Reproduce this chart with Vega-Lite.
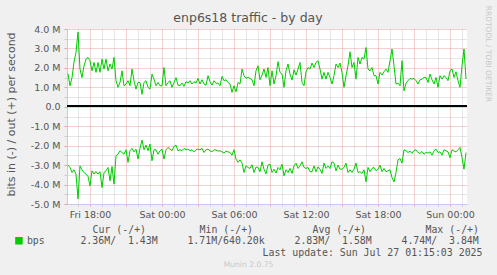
{
"$schema": "https://vega.github.io/schema/vega-lite/v6.json",
"width": 400, "height": 175,
"autosize": "none",
"padding": {"left": 67, "top": 29, "right": 30, "bottom": 71},
"background": "#f0f0f0",
"config": {"view": {"fill": "#ffffff", "stroke": null}, "font": "DejaVu Sans"},
"title": {"text": "enp6s18 traffic - by day", "font": "DejaVu Sans", "fontSize": 12.5, "fontWeight": "normal", "color": "#555555", "anchor": "middle", "dx": -19, "offset": 7, "dy": 26},
"data": {"values": [
{"time":"2025-07-25T16:10:00Z","out":1.70,"inb":-3.00},{"time":"2025-07-25T16:20:00Z","out":1.08,"inb":-3.12},{"time":"2025-07-25T16:30:00Z","out":1.50,"inb":-3.38},{"time":"2025-07-25T16:40:00Z","out":2.30,"inb":-3.24},{"time":"2025-07-25T16:50:00Z","out":2.80,"inb":-3.46},
{"time":"2025-07-25T17:00:00Z","out":3.84,"inb":-4.74},{"time":"2025-07-25T17:10:00Z","out":1.94,"inb":-3.04},{"time":"2025-07-25T17:20:00Z","out":1.50,"inb":-3.24},{"time":"2025-07-25T17:30:00Z","out":2.10,"inb":-3.38},{"time":"2025-07-25T17:40:00Z","out":2.45,"inb":-3.46},{"time":"2025-07-25T17:50:00Z","out":2.54,"inb":-3.58},
{"time":"2025-07-25T18:00:00Z","out":2.37,"inb":-4.07},{"time":"2025-07-25T18:10:00Z","out":1.85,"inb":-3.29},{"time":"2025-07-25T18:20:00Z","out":2.28,"inb":-3.46},{"time":"2025-07-25T18:30:00Z","out":1.77,"inb":-3.33},{"time":"2025-07-25T18:40:00Z","out":2.28,"inb":-3.46},{"time":"2025-07-25T18:50:00Z","out":1.77,"inb":-3.34},
{"time":"2025-07-25T19:00:00Z","out":2.45,"inb":-4.15},{"time":"2025-07-25T19:10:00Z","out":1.94,"inb":-3.38},{"time":"2025-07-25T19:20:00Z","out":2.45,"inb":-3.29},{"time":"2025-07-25T19:30:00Z","out":1.85,"inb":-3.12},{"time":"2025-07-25T19:40:00Z","out":2.20,"inb":-3.81},{"time":"2025-07-25T19:50:00Z","out":1.94,"inb":-3.07},
{"time":"2025-07-25T20:00:00Z","out":2.54,"inb":-3.98},{"time":"2025-07-25T20:10:00Z","out":1.34,"inb":-2.52},{"time":"2025-07-25T20:20:00Z","out":1.00,"inb":-2.44},{"time":"2025-07-25T20:30:00Z","out":1.25,"inb":-2.26},{"time":"2025-07-25T20:40:00Z","out":1.85,"inb":-2.35},{"time":"2025-07-25T20:50:00Z","out":1.08,"inb":-2.44},
{"time":"2025-07-25T21:00:00Z","out":1.17,"inb":-2.21},{"time":"2025-07-25T21:10:00Z","out":1.34,"inb":-2.86},{"time":"2025-07-25T21:20:00Z","out":1.08,"inb":-2.26},{"time":"2025-07-25T21:30:00Z","out":1.94,"inb":-2.14},{"time":"2025-07-25T21:40:00Z","out":1.34,"inb":-2.32},{"time":"2025-07-25T21:50:00Z","out":0.91,"inb":-2.18},
{"time":"2025-07-25T22:00:00Z","out":1.25,"inb":-2.69},{"time":"2025-07-25T22:10:00Z","out":1.25,"inb":-2.14},{"time":"2025-07-25T22:20:00Z","out":0.64,"inb":-1.71},{"time":"2025-07-25T22:30:00Z","out":1.25,"inb":-2.21},{"time":"2025-07-25T22:40:00Z","out":1.34,"inb":-1.97},{"time":"2025-07-25T22:50:00Z","out":1.00,"inb":-2.26},
{"time":"2025-07-25T23:00:00Z","out":0.91,"inb":-1.92},{"time":"2025-07-25T23:10:00Z","out":1.68,"inb":-2.78},{"time":"2025-07-25T23:20:00Z","out":1.42,"inb":-2.21},{"time":"2025-07-25T23:30:00Z","out":1.08,"inb":-2.21},{"time":"2025-07-25T23:40:00Z","out":1.25,"inb":-2.44},{"time":"2025-07-25T23:50:00Z","out":1.08,"inb":-2.26},
{"time":"2025-07-26T00:00:00Z","out":1.08,"inb":-2.18},{"time":"2025-07-26T00:10:00Z","out":2.02,"inb":-2.69},{"time":"2025-07-26T00:20:00Z","out":1.08,"inb":-2.21},{"time":"2025-07-26T00:30:00Z","out":1.25,"inb":-2.09},{"time":"2025-07-26T00:40:00Z","out":1.34,"inb":-2.18},{"time":"2025-07-26T00:50:00Z","out":1.00,"inb":-2.26},
{"time":"2025-07-26T01:00:00Z","out":1.25,"inb":-2.04},{"time":"2025-07-26T01:10:00Z","out":1.50,"inb":-1.97},{"time":"2025-07-26T01:20:00Z","out":1.11,"inb":-2.26},{"time":"2025-07-26T01:30:00Z","out":1.08,"inb":-2.21},{"time":"2025-07-26T01:40:00Z","out":1.22,"inb":-2.26},{"time":"2025-07-26T01:50:00Z","out":1.05,"inb":-2.14},
{"time":"2025-07-26T02:00:00Z","out":1.29,"inb":-2.21},{"time":"2025-07-26T02:10:00Z","out":1.22,"inb":-2.18},{"time":"2025-07-26T02:20:00Z","out":1.34,"inb":-2.26},{"time":"2025-07-26T02:30:00Z","out":1.17,"inb":-2.21},{"time":"2025-07-26T02:40:00Z","out":1.29,"inb":-2.32},{"time":"2025-07-26T02:50:00Z","out":1.22,"inb":-2.21},
{"time":"2025-07-26T03:00:00Z","out":1.46,"inb":-2.18},{"time":"2025-07-26T03:10:00Z","out":1.17,"inb":-2.21},{"time":"2025-07-26T03:20:00Z","out":1.39,"inb":-2.14},{"time":"2025-07-26T03:30:00Z","out":1.17,"inb":-2.35},{"time":"2025-07-26T03:40:00Z","out":1.11,"inb":-2.21},{"time":"2025-07-26T03:50:00Z","out":1.60,"inb":-2.18},
{"time":"2025-07-26T04:00:00Z","out":1.29,"inb":-2.26},{"time":"2025-07-26T04:10:00Z","out":1.11,"inb":-2.32},{"time":"2025-07-26T04:20:00Z","out":1.34,"inb":-2.21},{"time":"2025-07-26T04:30:00Z","out":1.20,"inb":-2.23},{"time":"2025-07-26T04:40:00Z","out":1.22,"inb":-2.28},{"time":"2025-07-26T04:50:00Z","out":1.08,"inb":-2.26},
{"time":"2025-07-26T05:00:00Z","out":1.56,"inb":-2.32},{"time":"2025-07-26T05:10:00Z","out":1.34,"inb":-2.38},{"time":"2025-07-26T05:20:00Z","out":1.39,"inb":-2.28},{"time":"2025-07-26T05:30:00Z","out":1.25,"inb":-2.32},{"time":"2025-07-26T05:40:00Z","out":1.17,"inb":-2.35},{"time":"2025-07-26T05:50:00Z","out":0.74,"inb":-2.49},
{"time":"2025-07-26T06:00:00Z","out":1.08,"inb":-2.21},{"time":"2025-07-26T06:10:00Z","out":0.77,"inb":-2.69},{"time":"2025-07-26T06:20:00Z","out":1.25,"inb":-2.86},{"time":"2025-07-26T06:30:00Z","out":1.17,"inb":-2.73},{"time":"2025-07-26T06:40:00Z","out":1.94,"inb":-2.90},{"time":"2025-07-26T06:50:00Z","out":1.60,"inb":-3.38},
{"time":"2025-07-26T07:00:00Z","out":1.46,"inb":-3.04},{"time":"2025-07-26T07:10:00Z","out":1.51,"inb":-3.12},{"time":"2025-07-26T07:20:00Z","out":1.46,"inb":-3.17},{"time":"2025-07-26T07:30:00Z","out":1.39,"inb":-2.98},{"time":"2025-07-26T07:40:00Z","out":1.08,"inb":-3.38},{"time":"2025-07-26T07:50:00Z","out":1.85,"inb":-3.10},
{"time":"2025-07-26T08:00:00Z","out":2.11,"inb":-3.12},{"time":"2025-07-26T08:10:00Z","out":1.39,"inb":-3.34},{"time":"2025-07-26T08:20:00Z","out":1.63,"inb":-2.83},{"time":"2025-07-26T08:30:00Z","out":1.94,"inb":-3.21},{"time":"2025-07-26T08:40:00Z","out":1.51,"inb":-3.45},{"time":"2025-07-26T08:50:00Z","out":2.02,"inb":-3.00},
{"time":"2025-07-26T09:00:00Z","out":1.08,"inb":-2.95},{"time":"2025-07-26T09:10:00Z","out":1.85,"inb":-3.38},{"time":"2025-07-26T09:20:00Z","out":1.17,"inb":-3.21},{"time":"2025-07-26T09:30:00Z","out":1.60,"inb":-3.41},{"time":"2025-07-26T09:40:00Z","out":2.32,"inb":-3.12},{"time":"2025-07-26T09:50:00Z","out":1.77,"inb":-3.24},
{"time":"2025-07-26T10:00:00Z","out":1.68,"inb":-2.95},{"time":"2025-07-26T10:10:00Z","out":1.00,"inb":-3.55},{"time":"2025-07-26T10:20:00Z","out":1.85,"inb":-3.24},{"time":"2025-07-26T10:30:00Z","out":2.20,"inb":-3.38},{"time":"2025-07-26T10:40:00Z","out":1.68,"inb":-3.17},{"time":"2025-07-26T10:50:00Z","out":1.37,"inb":-3.43},
{"time":"2025-07-26T11:00:00Z","out":1.90,"inb":-3.04},{"time":"2025-07-26T11:10:00Z","out":1.63,"inb":-2.90},{"time":"2025-07-26T11:20:00Z","out":1.94,"inb":-3.17},{"time":"2025-07-26T11:30:00Z","out":2.28,"inb":-3.04},{"time":"2025-07-26T11:40:00Z","out":1.25,"inb":-2.83},{"time":"2025-07-26T11:50:00Z","out":1.08,"inb":-3.12},
{"time":"2025-07-26T12:00:00Z","out":1.80,"inb":-3.17},{"time":"2025-07-26T12:10:00Z","out":2.02,"inb":-3.12},{"time":"2025-07-26T12:20:00Z","out":1.94,"inb":-3.34},{"time":"2025-07-26T12:30:00Z","out":2.25,"inb":-3.34},{"time":"2025-07-26T12:40:00Z","out":2.02,"inb":-3.04},{"time":"2025-07-26T12:50:00Z","out":2.28,"inb":-3.34},
{"time":"2025-07-26T13:00:00Z","out":2.37,"inb":-3.09},{"time":"2025-07-26T13:10:00Z","out":1.94,"inb":-3.21},{"time":"2025-07-26T13:20:00Z","out":1.42,"inb":-3.43},{"time":"2025-07-26T13:30:00Z","out":1.77,"inb":-2.90},{"time":"2025-07-26T13:40:00Z","out":1.42,"inb":-3.17},{"time":"2025-07-26T13:50:00Z","out":1.77,"inb":-3.05},
{"time":"2025-07-26T14:00:00Z","out":1.51,"inb":-3.17},{"time":"2025-07-26T14:10:00Z","out":1.17,"inb":-2.83},{"time":"2025-07-26T14:20:00Z","out":1.60,"inb":-2.90},{"time":"2025-07-26T14:30:00Z","out":2.20,"inb":-3.29},{"time":"2025-07-26T14:40:00Z","out":2.02,"inb":-3.00},{"time":"2025-07-26T14:50:00Z","out":2.25,"inb":-3.21},
{"time":"2025-07-26T15:00:00Z","out":1.77,"inb":-3.21},{"time":"2025-07-26T15:10:00Z","out":1.00,"inb":-3.12},{"time":"2025-07-26T15:20:00Z","out":1.60,"inb":-2.90},{"time":"2025-07-26T15:30:00Z","out":2.11,"inb":-3.38},{"time":"2025-07-26T15:40:00Z","out":2.83,"inb":-3.24},{"time":"2025-07-26T15:50:00Z","out":2.02,"inb":-3.38},
{"time":"2025-07-26T16:00:00Z","out":2.28,"inb":-3.21},{"time":"2025-07-26T16:10:00Z","out":1.42,"inb":-2.90},{"time":"2025-07-26T16:20:00Z","out":2.54,"inb":-3.38},{"time":"2025-07-26T16:30:00Z","out":2.20,"inb":-3.34},{"time":"2025-07-26T16:40:00Z","out":2.54,"inb":-3.43},{"time":"2025-07-26T16:50:00Z","out":2.45,"inb":-3.24},
{"time":"2025-07-26T17:00:00Z","out":3.05,"inb":-3.86},{"time":"2025-07-26T17:10:00Z","out":1.94,"inb":-3.12},{"time":"2025-07-26T17:20:00Z","out":1.85,"inb":-3.34},{"time":"2025-07-26T17:30:00Z","out":2.02,"inb":-3.17},{"time":"2025-07-26T17:40:00Z","out":1.60,"inb":-3.12},{"time":"2025-07-26T17:50:00Z","out":1.60,"inb":-3.29},
{"time":"2025-07-26T18:00:00Z","out":1.17,"inb":-3.21},{"time":"2025-07-26T18:10:00Z","out":1.77,"inb":-3.00},{"time":"2025-07-26T18:20:00Z","out":1.63,"inb":-3.34},{"time":"2025-07-26T18:30:00Z","out":1.80,"inb":-3.17},{"time":"2025-07-26T18:40:00Z","out":1.94,"inb":-3.34},{"time":"2025-07-26T18:50:00Z","out":1.77,"inb":-3.29},
{"time":"2025-07-26T19:00:00Z","out":2.37,"inb":-3.24},{"time":"2025-07-26T19:10:00Z","out":2.97,"inb":-3.64},{"time":"2025-07-26T19:20:00Z","out":2.11,"inb":-3.86},{"time":"2025-07-26T19:30:00Z","out":1.17,"inb":-3.38},{"time":"2025-07-26T19:40:00Z","out":1.22,"inb":-2.73},{"time":"2025-07-26T19:50:00Z","out":1.08,"inb":-2.66},
{"time":"2025-07-26T20:00:00Z","out":2.37,"inb":-2.90},{"time":"2025-07-26T20:10:00Z","out":0.82,"inb":-2.21},{"time":"2025-07-26T20:20:00Z","out":1.22,"inb":-2.26},{"time":"2025-07-26T20:30:00Z","out":1.34,"inb":-2.35},{"time":"2025-07-26T20:40:00Z","out":1.46,"inb":-2.28},{"time":"2025-07-26T20:50:00Z","out":1.42,"inb":-2.40},
{"time":"2025-07-26T21:00:00Z","out":1.46,"inb":-2.25},{"time":"2025-07-26T21:10:00Z","out":1.34,"inb":-2.21},{"time":"2025-07-26T21:20:00Z","out":1.17,"inb":-2.35},{"time":"2025-07-26T21:30:00Z","out":1.39,"inb":-2.40},{"time":"2025-07-26T21:40:00Z","out":1.42,"inb":-2.30},{"time":"2025-07-26T21:50:00Z","out":1.51,"inb":-2.44},
{"time":"2025-07-26T22:00:00Z","out":1.51,"inb":-2.35},{"time":"2025-07-26T22:10:00Z","out":1.25,"inb":-2.38},{"time":"2025-07-26T22:20:00Z","out":1.68,"inb":-2.32},{"time":"2025-07-26T22:30:00Z","out":1.39,"inb":-2.49},{"time":"2025-07-26T22:40:00Z","out":1.17,"inb":-2.26},{"time":"2025-07-26T22:50:00Z","out":1.51,"inb":-2.18},
{"time":"2025-07-26T23:00:00Z","out":1.00,"inb":-2.35},{"time":"2025-07-26T23:10:00Z","out":1.60,"inb":-2.32},{"time":"2025-07-26T23:20:00Z","out":1.42,"inb":-2.49},{"time":"2025-07-26T23:30:00Z","out":1.60,"inb":-2.21},{"time":"2025-07-26T23:40:00Z","out":1.51,"inb":-2.26},{"time":"2025-07-26T23:50:00Z","out":1.34,"inb":-2.32},
{"time":"2025-07-27T00:00:00Z","out":1.85,"inb":-2.62},{"time":"2025-07-27T00:10:00Z","out":1.94,"inb":-2.21},{"time":"2025-07-27T00:20:00Z","out":1.51,"inb":-2.28},{"time":"2025-07-27T00:30:00Z","out":1.80,"inb":-2.32},{"time":"2025-07-27T00:40:00Z","out":1.34,"inb":-2.21},{"time":"2025-07-27T00:50:00Z","out":1.00,"inb":-2.09},
{"time":"2025-07-27T01:00:00Z","out":2.11,"inb":-2.61},{"time":"2025-07-27T01:10:00Z","out":2.97,"inb":-3.21},{"time":"2025-07-27T01:20:00Z","out":1.43,"inb":-2.36}
]},
"layer": [
{"mark": {"type": "line", "strokeWidth": 1},
 "encoding": {
  "x": {"field": "time", "type": "temporal",
   "scale": {"type": "utc", "domain": [{"year": 2025, "month": 7, "date": 25, "hours": 16, "minutes": 5, "utc": true}, {"year": 2025, "month": 7, "date": 27, "hours": 1, "minutes": 25, "utc": true}]},
   "axis": {"orient": "bottom", "tickCount": 34,
    "labelExpr": "utchours(datum.value) % 6 == 0 ? utcFormat(datum.value, '%a %H:%M') : ''",
    "labelOverlap": false, "labelFlush": false,
    "labelFont": "DejaVu Sans", "labelFontSize": 9.5, "labelColor": "#555555", "labelPadding": 3,
    "grid": true, "gridDash": [1, 1], "gridWidth": 1,
    "gridColor": {"condition": {"test": "utchours(datum.value) % 3 == 0", "value": "#e8a0a0"}, "value": "#cccccc"},
    "ticks": true, "tickSize": 2,
    "tickColor": {"condition": {"test": "utchours(datum.value) % 3 == 0", "value": "#e8a0a0"}, "value": "#cccccc"},
    "domainColor": "#c8c8f0",
    "title": "Last update: Sun Jul 27 01:15:03 2025", "titleFont": "DejaVu Sans Mono", "titleFontSize": 9.9, "titleFontWeight": "normal", "titleColor": "#555555",
    "titleX": 415, "titleY": 48, "titleAlign": "right", "titleBaseline": "middle"}},
  "y": {"field": "out", "type": "quantitative",
   "scale": {"domain": [-5, 4], "nice": false, "zero": false},
   "axis": {"orient": "left", "values": [-5, -4.5, -4, -3.5, -3, -2.5, -2, -1.5, -1, -0.5, 0, 0.5, 1, 1.5, 2, 2.5, 3, 3.5, 4],
    "labelExpr": "datum.value == 0 ? '0.0' : (datum.value % 1 == 0 ? (datum.value < 0 ? '-' : '') + format(abs(datum.value), '.1f') + ' M' : '')",
    "labelFont": "DejaVu Sans", "labelFontSize": 9.5, "labelColor": "#555555", "labelPadding": 4,
    "grid": true, "gridWidth": 1, "gridDash": [1, 1],
    "gridColor": {"condition": {"test": "datum.value % 1 == 0", "value": "#e8a0a0"}, "value": "#cccccc"},
    "ticks": true, "tickSize": 3,
    "tickColor": {"condition": {"test": "datum.value % 1 == 0", "value": "#e8a0a0"}, "value": "#cccccc"},
    "domainColor": "#c8c8f0",
    "title": "bits in (-) / out (+) per second", "titleFont": "DejaVu Sans", "titleFontSize": 11, "titleFontWeight": "normal", "titleColor": "#555555",
    "titleX": -55.5, "titleY": 85, "titleAngle": 270, "titleAlign": "center", "titleBaseline": "middle"}},
  "color": {"datum": "bps", "type": "nominal", "scale": {"range": ["#00cc00"]},
   "legend": {"orient": "none", "legendX": -53, "legendY": 196, "padding": 0,
    "title": "Cur\u00a0(-/+)\u00a0\u00a0\u00a0\u00a0\u00a0\u00a0\u00a0\u00a0\u00a0Min\u00a0(-/+)\u00a0\u00a0\u00a0\u00a0\u00a0\u00a0\u00a0\u00a0\u00a0\u00a0Avg\u00a0(-/+)\u00a0\u00a0\u00a0\u00a0\u00a0\u00a0\u00a0\u00a0\u00a0\u00a0Max\u00a0(-/+)",
    "titleAnchor": "end",
    "titleFont": "DejaVu Sans Mono", "titleFontSize": 9.9, "titleFontWeight": "normal", "titleColor": "#555555", "titleLimit": 600, "titlePadding": 1,
    "labelExpr": "'bps\u00a0\u00a0\u00a0\u00a0\u00a0\u00a02.36M/\u00a0\u00a01.43M\u00a0\u00a0\u00a0\u00a0\u00a01.71M/640.20k\u00a0\u00a0\u00a0\u00a0\u00a02.83M/\u00a0\u00a01.58M\u00a0\u00a0\u00a0\u00a0\u00a04.74M/\u00a0\u00a03.84M'",
    "labelFont": "DejaVu Sans Mono", "labelFontSize": 9.9, "labelColor": "#555555", "labelLimit": 600, "labelOffset": 3,
    "symbolType": "square", "symbolSize": 36, "symbolFillColor": "#00cc00", "symbolStrokeColor": "#00cc00"}}
 }},
{"mark": {"type": "line", "strokeWidth": 1, "color": "#00cc00"},
 "encoding": {
  "x": {"field": "time", "type": "temporal",
   "scale": {"type": "utc", "domain": [{"year": 2025, "month": 7, "date": 25, "hours": 16, "minutes": 5, "utc": true}, {"year": 2025, "month": 7, "date": 27, "hours": 1, "minutes": 25, "utc": true}]},
   "axis": {"orient": "bottom", "offset": 0, "labels": false, "ticks": false, "grid": false, "domain": false,
    "title": "Munin 2.0.75", "titleFont": "DejaVu Sans", "titleFontSize": 7.6, "titleFontWeight": "normal", "titleColor": "#c8c8c8",
    "titleX": 181, "titleY": 60, "titleAlign": "center", "titleBaseline": "middle"}},
  "y": {"field": "inb", "type": "quantitative",
   "scale": {"domain": [-5, 4], "nice": false, "zero": false},
   "axis": {"orient": "right", "labels": false, "ticks": false, "grid": false, "domain": false,
    "title": "RRDTOOL / TOBI OETIKER", "titleFont": "DejaVu Sans", "titleFontSize": 7.5, "titleFontWeight": "normal", "titleColor": "#c8c8c8",
    "titleAngle": 90, "titleX": 20, "titleY": 24.5, "titleAlign": "center", "titleBaseline": "middle"}}
 }},
{"mark": {"type": "rule", "color": "#000000", "strokeWidth": 1, "yOffset": -0.28},
 "encoding": {"y": {"datum": 0, "type": "quantitative", "scale": {"domain": [-5, 4], "nice": false, "zero": false}, "axis": null}}}
],
"resolve": {"axis": {"x": "independent", "y": "independent"}}
}
